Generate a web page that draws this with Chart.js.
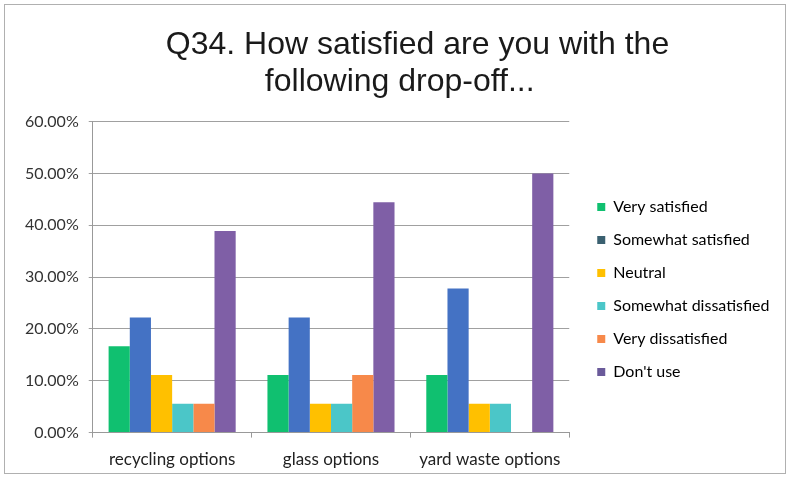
<!DOCTYPE html>
<html>
<head>
<meta charset="utf-8">
<script src="https://cdn.jsdelivr.net/npm/chart.js@4/dist/chart.umd.min.js"></script>
<style>
  html, body { margin: 0; padding: 0; background: #fff; }
  #wrap {
    position: absolute; left: 4px; top: 4px;
    width: 780px; height: 468px;
    border: 1px solid #b0b0b0;
  }
</style>
</head>
<body>
<div id="wrap"><canvas id="chart"></canvas></div>
<script>
const categories = ["recycling options", "glass options", "yard waste options"];
const seriesNames = ["Very satisfied", "Somewhat satisfied", "Neutral", "Somewhat dissatisfied", "Very dissatisfied", "Don't use"];
const verySatisfied = [16.67, 11.11, 11.11];
const somewhatSatisfied = [22.22, 22.22, 27.78];
const neutral = [11.11, 5.56, 5.56];
const somewhatDissatisfied = [5.56, 5.56, 5.56];
const veryDissatisfied = [5.56, 11.11, 0];
const dontUse = [38.89, 44.44, 50.0];
const colors = ["#10c070", "#4472c4", "#ffc000", "#4bc6c8", "#f7894a", "#7f5fa6"];
const legendColors = ["#10c070", "#3a6070", "#ffc000", "#4bc6c8", "#f7894a", "#6a5a9a"];

const values = [verySatisfied, somewhatSatisfied, neutral, somewhatDissatisfied, veryDissatisfied, dontUse];

// nudge the title and legend the way Excel placed them
const nudge = {
  id: "nudge",
  afterLayout(chart) {
    const lg = chart.legend, t = chart.titleBlock;
    lg.left += 11; lg.right += 40;
    lg.top += 41; lg.bottom += 41;
    t.left += 33; t.right += 33;
  }
};

const ctx = document.getElementById("chart");
new Chart(ctx, {
  type: "bar",
  data: {
    labels: categories,
    datasets: seriesNames.map((name, i) => ({
      label: name,
      data: values[i],
      backgroundColor: colors[i],
      barPercentage: 1.0,
      categoryPercentage: 0.8
    }))
  },
  options: {
    responsive: true,
    maintainAspectRatio: false,
    animation: false,
    layout: { padding: { left: 10, right: 31, top: 10, bottom: -9 } },
    plugins: {
      title: {
        display: true,
        text: ["Q34. How satisfied are you with the", "following drop-off...    "],
        font: { family: "Liberation Sans", size: 32, weight: "normal", lineHeight: 1.15 },
        color: "#1a1a1a",
        padding: { top: 12, bottom: 21 }
      },
      legend: {
        position: "right",
        align: "center",
        labels: {
          font: { family: "Lato", size: 16 },
          color: "#222",
          boxWidth: 8,
          boxHeight: 8,
          padding: 17,
          generateLabels: chart => seriesNames.map((name, i) => ({
            text: name,
            fillStyle: legendColors[i],
            strokeStyle: legendColors[i],
            lineWidth: 0,
            datasetIndex: i,
            hidden: false
          }))
        }
      },
      tooltip: { enabled: false }
    },
    scales: {
      x: {
        grid: { display: true, offset: true, drawOnChartArea: false, tickLength: 5, color: "#999" },
        border: { color: "#999" },
        ticks: { font: { family: "Lato", size: 17 }, color: "#222", padding: 12 }
      },
      y: {
        min: 0,
        max: 60,
        ticks: {
          stepSize: 10,
          font: { family: "Lato", size: 16 },
          color: "#333",
          padding: 10,
          callback: v => v.toFixed(2) + "%"
        },
        grid: { color: "#a0a0a0", drawTicks: true, tickLength: 4 },
        border: { color: "#999" }
      }
    }
  },
  plugins: [nudge]
});
</script>
</body>
</html>
